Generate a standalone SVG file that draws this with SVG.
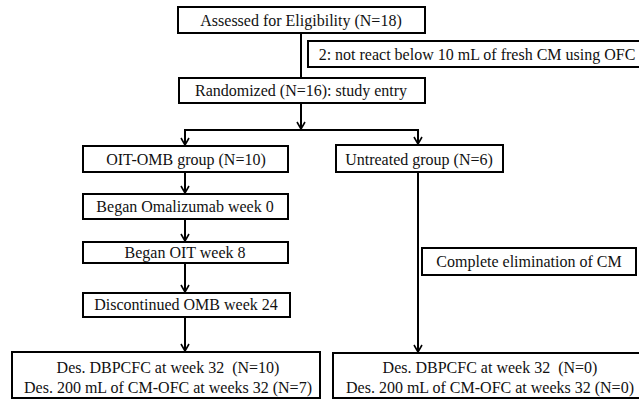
<svg xmlns="http://www.w3.org/2000/svg" width="639" height="399" viewBox="0 0 639 399">
<defs>
<style>
rect{fill:#fff;stroke:#000;stroke-width:2}
text{font-family:"Liberation Serif","Times New Roman",serif;font-size:16px;fill:#111;text-anchor:middle;white-space:pre}
.c{fill:none;stroke:#000;stroke-width:2}
</style>
<marker id="ah" viewBox="0 0 10 10" refX="9" refY="5" markerWidth="10" markerHeight="10" markerUnits="userSpaceOnUse" orient="auto">
<path d="M2,1 L9,5 L2,9" fill="none" stroke="#000" stroke-width="1.6"/>
</marker>
</defs>
<rect width="639" height="399" style="stroke:none"/>
<g id="connectors">
<path class="c" d="M301,33 V78"/>
<path class="c" d="M301,103 V129" marker-end="url(#ah)"/>
<path class="c" d="M185,145 V130 H418 V144" marker-end="url(#ah)"/>
<path class="c" d="M185,131 V145" marker-end="url(#ah)"/>
<path class="c" d="M185,172 V193" marker-end="url(#ah)"/>
<path class="c" d="M185,219 V241" marker-end="url(#ah)"/>
<path class="c" d="M185,263 V292" marker-end="url(#ah)"/>
<path class="c" d="M185,317 V351" marker-end="url(#ah)"/>
<path class="c" d="M418,172 V352" marker-end="url(#ah)"/>
</g>
<g id="assessed"><rect x="178" y="7" width="247" height="26"/><text x="301" y="26">Assessed for Eligibility (N=18)</text></g>
<g id="excluded"><rect x="308" y="41" width="340" height="26"/><text x="477" y="60">2: not react below 10 mL of fresh CM using OFC</text></g>
<g id="randomized"><rect x="179" y="78" width="246" height="25"/><text x="301" y="96">Randomized (N=16): study entry</text></g>
<g id="oit-omb"><rect x="83" y="146" width="205" height="26"/><text x="186" y="165">OIT-OMB group (N=10)</text></g>
<g id="untreated"><rect x="336" y="145" width="167" height="27"/><text x="419" y="165">Untreated group (N=6)</text></g>
<g id="omalizumab"><rect x="83" y="194" width="205" height="25"/><text x="185" y="212">Began Omalizumab week 0</text></g>
<g id="oit"><rect x="83" y="242" width="205" height="21"/><text x="185" y="258">Began OIT week 8</text></g>
<g id="elimination"><rect x="422" y="248" width="214" height="27"/><text x="529" y="267">Complete elimination of CM</text></g>
<g id="discontinued"><rect x="83" y="293" width="207" height="24"/><text x="186" y="310">Discontinued OMB week 24</text></g>
<g id="result-left"><rect x="12" y="352" width="308" height="46"/><text x="168" y="373">Des. DBPCFC at week 32  (N=10)</text><text x="168" y="393">Des. 200 mL of CM-OFC at weeks 32 (N=7)</text></g>
<g id="result-right"><rect x="333" y="353" width="320" height="45"/><text x="490" y="373">Des. DBPCFC at week 32  (N=0)</text><text x="490" y="393">Des. 200 mL of CM-OFC at weeks 32 (N=0)</text></g>
</svg>
